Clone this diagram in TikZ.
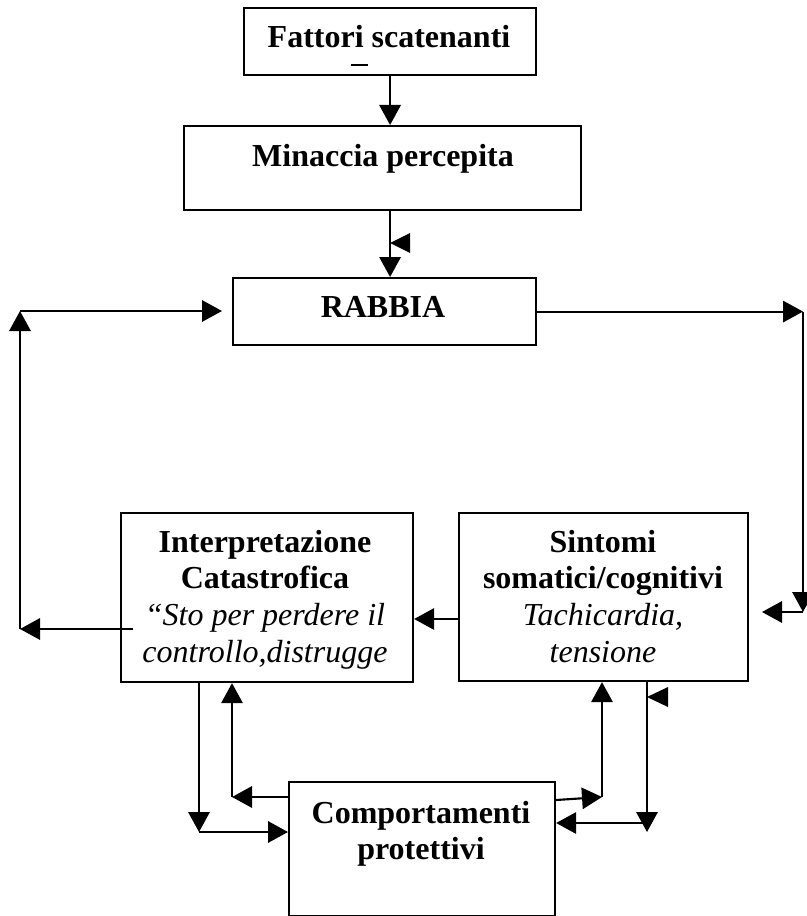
\documentclass[tikz,border=0pt]{standalone}
\usepackage{fontspec}
\setmainfont{Liberation Serif}
\usetikzlibrary{arrows.meta,positioning}
\tikzset{every picture/.style={line width=1.6pt}}
\tikzset{
  box/.style={draw, rectangle, inner sep=0pt, anchor=north west},
  arr/.style={-{Triangle[length=15pt,width=16pt]}},
  onetext/.style={anchor=base, inner sep=0pt, font=\fontsize{24}{27.5}\selectfont\bfseries},
  moretext/.style={anchor=north, inner sep=0pt, align=center, font=\fontsize{24}{27.5}\selectfont\bfseries},
}

\begin{document}
\begin{tikzpicture}[x=0.75pt,y=0.75pt,yscale=-1,xscale=1]
\useasboundingbox (0,0) rectangle (806,916);

%Shape: Rectangle [fattori]
\node[box, minimum width=219pt, minimum height=50.25pt] (fattori) at (243,7) {};
%Shape: Rectangle [minaccia]
\node[box, minimum width=297.75pt, minimum height=63pt] (minaccia) at (183,125) {};
%Shape: Rectangle [rabbia]
\node[box, minimum width=227.25pt, minimum height=50.25pt] (rabbia) at (232,277) {};
%Shape: Rectangle [interp]
\node[box, minimum width=219pt, minimum height=126.75pt] (interp) at (120,512) {};
%Shape: Rectangle [sintomi]
\node[box, minimum width=216.75pt, minimum height=126pt] (sintomi) at (458,512) {};
%Shape: Rectangle [comport]
\node[box, minimum width=199.5pt, minimum height=100.5pt] (comport) at (288,781) {};

% Text Node
\node[onetext] (fattoriTxt) at (389,48) {Fattori scatenanti};
\draw (351,65) -- (368,65);
% Text Node
\node[onetext] (minacciaTxt) at (383,167) {Minaccia percepita};
% Text Node
\node[onetext] (rabbiaTxt) at (383,317) {RABBIA};
% Text Node
\node[moretext] (interpTxt) at (265,529) {Interpretazione\\Catastrofica\\{\mdseries\itshape “Sto per perdere il}\\{\mdseries\itshape controllo,distrugge}};
% Text Node
\node[moretext] (sintomiTxt) at (603,529) {Sintomi\\somatici/cognitivi\\{\mdseries\itshape Tachicardia,}\\{\mdseries\itshape tensione}};
% Text Node
\node[moretext] (comportTxt) at (421,800) {Comportamenti\\protettivi};

%Straight Lines [top]
\draw[arr] (fattori.south) -- (fattori.south |- minaccia.north);
\draw[arr] (minaccia.south -| fattori.south) -- (rabbia.north -| fattori.south);
\fill (390,243) -- (410,233) -- (410,253) -- cycle;

%Straight Lines [right loop]
\coordinate (rlow) at (803,612);
\coordinate (rtip) at (762,612);
\draw[arr] (rabbia.east) -- (rabbia.east -| rlow);
\draw[arr] (rabbia.east -| rlow) -- (rlow);
\draw[arr] (rlow) -- (rtip);

%Straight Lines [middle]
\draw[arr] (sintomi.west |- 0,619) -- (interp.east |- 0,619);

%Straight Lines [left loop]
\coordinate (lstart) at (133,629);
\coordinate (lcorner) at (20,629);
\coordinate (ltop) at (20,311);
\coordinate (ltip) at (222,311);
\draw[arr] (lstart) -- (lcorner);
\draw[arr] (lcorner) -- (ltop);
\draw[arr] (ltop) -- (ltip);

%Straight Lines [bottom left]
\coordinate (bl1) at (199,832);
\coordinate (bl2) at (232,797);
\draw[arr] (interp.south -| bl1) -- (bl1);
\draw[arr] (bl1) -- (comport.west |- bl1);
\draw[arr] (comport.west |- bl2) -- (bl2);
\draw[arr] (bl2) -- (interp.south -| bl2);

%Straight Lines [bottom right]
\coordinate (br1) at (602,797);
\coordinate (br2) at (647,832);
\draw[arr] (comport.east |- 0,800) -- (br1);
\draw[arr] (br1) -- (sintomi.south -| br1);
\draw[arr] (sintomi.south -| br2) -- (br2);
\draw[arr] (br2 |- 0,823) -- (comport.east |- 0,823);
\fill (647,697) -- (668,687) -- (668,707) -- cycle;

\end{tikzpicture}
\end{document}
